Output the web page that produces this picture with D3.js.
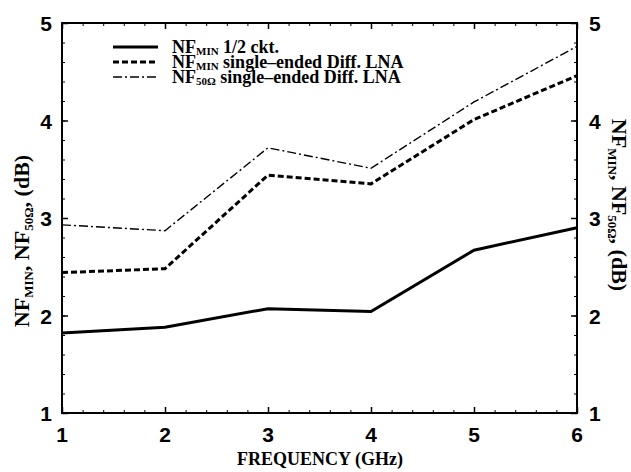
<!DOCTYPE html>
<html>
<head>
<meta charset="utf-8">
<script src="https://cdn.jsdelivr.net/npm/d3@7"></script>
<style>
  body { margin: 0; background: #fff; }
</style>
</head>
<body>
<div id="chart"></div>
<script>
var freq = [1, 2, 3, 4, 5, 6];
var nfMinHalf = [1.82, 1.88, 2.07, 2.04, 2.67, 2.90];
var nfMinDiff = [2.44, 2.48, 3.44, 3.35, 4.01, 4.46];
var nf50Diff = [2.93, 2.87, 3.72, 3.51, 4.19, 4.76];
var xTicks = [1, 2, 3, 4, 5, 6];
var yTicks = [1, 2, 3, 4, 5];

var series = [
  {name: 'NF', sub: 'MIN', rest: ' 1/2 ckt.', values: nfMinHalf, width: 3, dash: null},
  {name: 'NF', sub: 'MIN', rest: ' single\u2013ended Diff. LNA', values: nfMinDiff, width: 3, dash: '6,3'},
  {name: 'NF', sub: '50\u03A9', rest: ' single\u2013ended Diff. LNA', values: nf50Diff, width: 1.4, dash: '9,3,2,3'}
];

var width = 631, height = 472;
var m = {left: 62, right: 577, top: 23, bottom: 413};

var svg = d3.select('#chart').append('svg')
  .attr('width', width).attr('height', height);

var x = d3.scaleLinear().domain([1, 6]).range([m.left, m.right]);
var y = d3.scaleLinear().domain([1, 5]).range([m.bottom, m.top]);

var tickFont = 'Liberation Sans, Arial, sans-serif';
var serif = 'Liberation Serif, Times New Roman, serif';

// minor ticks every 0.2
var minorX = d3.range(1, 6.001, 0.2);
var minorY = d3.range(1, 5.001, 0.2);

function drawAxis(axis, pos, minor, major) {
  var g = svg.append('g').attr('transform', pos);
  g.call(axis.tickValues(minor).tickSize(3).tickFormat(''));
  g.selectAll('.domain').remove();
  g.selectAll('line').attr('stroke', '#000').attr('stroke-width', 1);
  var g2 = svg.append('g').attr('transform', pos);
  g2.call(axis.tickValues(major).tickSize(6).tickFormat(''));
  g2.selectAll('.domain').remove();
  g2.selectAll('line').attr('stroke', '#000').attr('stroke-width', 1.5);
}

// ticks pointing inward
drawAxis(d3.axisTop(x), 'translate(0,' + m.bottom + ')', minorX, xTicks);
drawAxis(d3.axisBottom(x), 'translate(0,' + m.top + ')', minorX, xTicks);
drawAxis(d3.axisRight(y), 'translate(' + m.left + ',0)', minorY, yTicks);
drawAxis(d3.axisLeft(y), 'translate(' + m.right + ',0)', minorY, yTicks);

svg.append('rect')
  .attr('x', m.left).attr('y', m.top)
  .attr('width', m.right - m.left).attr('height', m.bottom - m.top)
  .style('fill', 'none').style('stroke', '#000').style('stroke-width', 2);

// tick labels
svg.selectAll('.xlab').data(xTicks).enter().append('text')
  .attr('x', function(d){ return x(d); })
  .attr('y', 442)
  .attr('text-anchor', 'middle')
  .style('font-family', tickFont).style('font-weight', 'bold').style('font-size', '21px')
  .text(function(d){ return d; });

svg.selectAll('.ylabL').data(yTicks).enter().append('text')
  .attr('x', 52)
  .attr('y', function(d){ return y(d) + 8; })
  .attr('text-anchor', 'end')
  .style('font-family', tickFont).style('font-weight', 'bold').style('font-size', '21px')
  .text(function(d){ return d; });

svg.selectAll('.ylabR').data(yTicks).enter().append('text')
  .attr('x', 589)
  .attr('y', function(d){ return y(d) + 8; })
  .attr('text-anchor', 'start')
  .style('font-family', tickFont).style('font-weight', 'bold').style('font-size', '21px')
  .text(function(d){ return d; });

// lines
var line = d3.line()
  .x(function(d, i){ return x(freq[i]); })
  .y(function(d){ return y(d); });

series.forEach(function(s){
  svg.append('path')
    .attr('d', line(s.values))
    .style('fill', 'none')
    .style('stroke', '#000')
    .style('stroke-width', s.width)
    .style('stroke-dasharray', s.dash);
});

// legend
series.forEach(function(s, i){
  var ly = 47 + i * 15;
  svg.append('line')
    .attr('x1', 113).attr('x2', 158).attr('y1', ly).attr('y2', ly)
    .style('stroke', '#000').style('stroke-width', s.width)
    .style('stroke-dasharray', s.dash);
  var t = svg.append('text')
    .attr('x', 172).attr('y', ly + 6)
    .style('font-family', serif).style('font-weight', 'bold').style('font-size', '18px');
  t.append('tspan').text(s.name);
  t.append('tspan').attr('dy', 2).style('font-size', '11px').text(s.sub);
  t.append('tspan').attr('dy', -2).text(s.rest);
});

// axis titles
svg.append('text')
  .attr('x', 320).attr('y', 465)
  .attr('text-anchor', 'middle')
  .style('font-family', serif).style('font-weight', 'bold').style('font-size', '18px')
  .text('FREQUENCY (GHz)');

function yTitle(tx, ty, rot) {
  var t = svg.append('text')
    .attr('transform', 'translate(' + tx + ',' + ty + ') rotate(' + rot + ')')
    .attr('text-anchor', 'middle')
    .style('font-family', serif).style('font-weight', 'bold').style('font-size', '22px');
  t.append('tspan').text('NF');
  t.append('tspan').attr('dy', 4).style('font-size', '13px').text('MIN');
  t.append('tspan').attr('dy', -4).text(', NF');
  t.append('tspan').attr('dy', 4).style('font-size', '13px').text('50\u03A9');
  t.append('tspan').attr('dy', -4).text(', (dB)');
}
yTitle(29, 241, -90);
yTitle(612, 205, 90);
</script>
</body>
</html>
